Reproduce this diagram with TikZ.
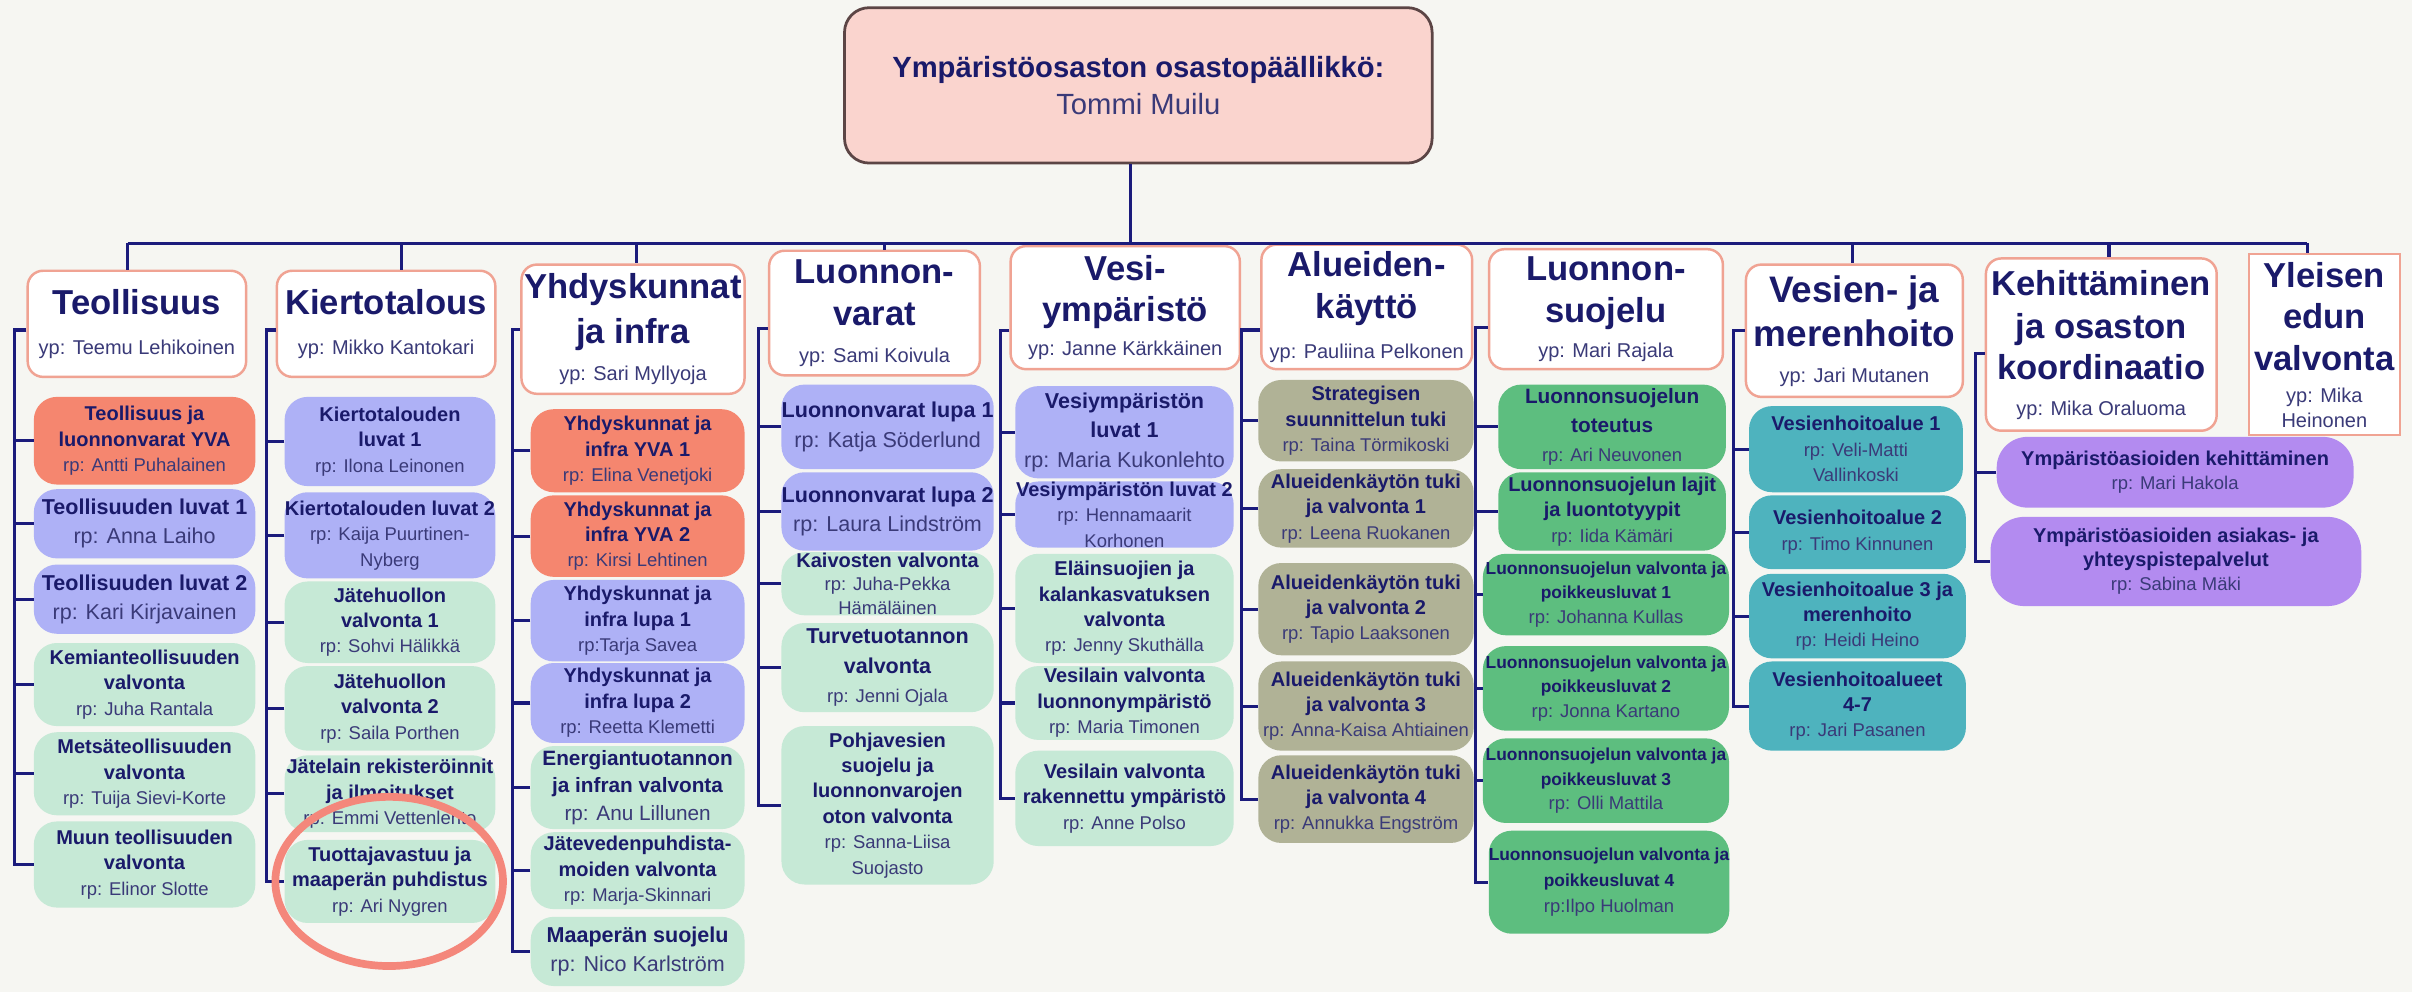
\documentclass[tikz,border=0pt]{standalone}
\usepackage{fontspec}
\setmainfont{Liberation Sans}
\usetikzlibrary{shapes.geometric,calc}
\definecolor{bg}{HTML}{F6F6F2}
\definecolor{navy}{HTML}{1B1B7C}
\definecolor{tnavy}{HTML}{1A1A6A}
\definecolor{rpc}{HTML}{3A3A78}
\definecolor{salm}{HTML}{F5866F}
\definecolor{lav}{HTML}{AEB1F6}
\definecolor{lgr}{HTML}{C6E9D6}
\definecolor{oli}{HTML}{B0B296}
\definecolor{mgr}{HTML}{5DBE7F}
\definecolor{tealb}{HTML}{4EB3BE}
\definecolor{purp}{HTML}{B38BF0}
\definecolor{hbord}{HTML}{F0A393}
\definecolor{tfill}{HTML}{FAD4CE}
\definecolor{tbord}{HTML}{5C4545}
\definecolor{ellc}{HTML}{F4877B}
\tikzset{
 conn/.style={draw=navy, line width=2pt},
 cbox/.style={rounded corners=15pt, inner sep=0pt, align=center, text=tnavy, font=\fontsize{13}{16.5}\selectfont},
 big/.style={font=\fontsize{14}{19}\selectfont},
 hbox/.style={draw=hbord, fill=white, line width=1.6pt, rounded corners=10pt, inner sep=0pt, align=center, text=tnavy, font=\fontsize{22.5}{27}\selectfont},
 topbox/.style={draw=tbord, fill=tfill, line width=1.8pt, rounded corners=16pt, inner sep=0pt, align=center, text=tnavy, font=\fontsize{19}{24}\selectfont},
}
\newcommand{\tB}[1]{\textbf{#1}}
\newcommand{\tR}[1]{{\color{rpc}#1}}
\newcommand{\tr}[1]{{\fontsize{12}{14}\selectfont\color{rpc}#1}}
\newcommand{\tY}[1]{{\fontsize{13}{16}\selectfont\color{rpc}#1}}
\newcommand{\cbx}[8][]{\node[cbox,fill=#7,minimum width={(#5-#3)*1pt},minimum height={(#6-#4)*1pt},#1] (#2) at ({(#3+#5)/2},{(#4+#6)/2}) {#8};}
\newcommand{\hbx}[7][]{\node[hbox,minimum width={(#5-#3)*1pt},minimum height={(#6-#4)*1pt},#1] (#2) at ({(#3+#5)/2},{(#4+#6)/2}) {#7};}
\begin{document}
\begin{tikzpicture}[x=1pt,y=-1pt]
\useasboundingbox (0,0) rectangle (1568,645);
\fill[bg] (0,0) rectangle (1568,645);

\node[topbox, minimum width=382pt, minimum height=101pt] (top) at (740,55.5) {\textbf{Ympäristöosaston osastopäällikkö:}\\{\color{rpc}Tommi Muilu}};

% headers
\hbx{h1}{18}{176}{160}{245}{\tB{Teollisuus}\\[-1pt]\tY{yp: Teemu Lehikoinen}}
\hbx{h2}{180}{176}{322}{245}{\tB{Kiertotalous}\\[-1pt]\tY{yp: Mikko Kantokari}}
\hbx{h3}{339}{172}{484}{256}{\tB{Yhdyskunnat}\\[2pt]\tB{ja infra}\\[-3pt]\tY{yp: Sari Myllyoja}}
\hbx{h4}{500}{163}{637}{244}{\tB{Luonnon-}\\\tB{varat}\\[-3pt]\tY{yp: Sami Koivula}}
\hbx{h5}{657}{160}{806}{240}{\tB{Vesi-}\\\tB{ympäristö}\\[-5pt]\tY{yp: Janne Kärkkäinen}}
\hbx{h6}{820}{159}{957}{240}{\tB{Alueiden-}\\\tB{käyttö}\\[-1pt]\tY{yp: Pauliina Pelkonen}}
\hbx{h7}{968}{162}{1120}{240}{\tB{Luonnon-}\\\tB{suojelu}\\[-4pt]\tY{yp: Mari Rajala}}
\hbx[font=\fontsize{24}{29}\selectfont]{h8}{1135}{172}{1276}{258}{\tB{Vesien- ja}\\\tB{merenhoito}\\[-6pt]\tY{yp: Jari Mutanen}}
\hbx{h9}{1291}{168}{1441}{280}{\tB{Kehittäminen}\\[1pt]\tB{ja osaston}\\\tB{koordinaatio}\\[-4pt]\tY{yp: Mika Oraluoma}}
\hbx[rounded corners=0pt, line width=1.2pt]{h10}{1462}{165}{1560}{283}{\tB{Yleisen}\\\tB{edun}\\\tB{valvonta}\\[-6pt]\tY{yp: Mika}\\[-11pt]\tY{Heinonen}}

% column 1
\cbx{c11}{22}{258}{166}{315}{salm}{\tB{Teollisuus ja}\\\tB{luonnonvarat YVA}\\\tr{rp: Antti Puhalainen}}
\cbx[big]{c12}{22}{318}{166}{363}{lav}{\tB{Teollisuuden luvat 1}\\\tR{rp: Anna Laiho}}
\cbx[big]{c13}{22}{367}{166}{412}{lav}{\tB{Teollisuuden luvat 2}\\\tR{rp: Kari Kirjavainen}}
\cbx{c14}{22}{418}{166}{472}{lgr}{\tB{Kemianteollisuuden}\\\tB{valvonta}\\\tr{rp: Juha Rantala}}
\cbx{c15}{22}{476}{166}{530}{lgr}{\tB{Metsäteollisuuden}\\\tB{valvonta}\\\tr{rp: Tuija Sievi-Korte}}
\cbx{c16}{22}{534}{166}{590}{lgr}{\tB{Muun teollisuuden}\\\tB{valvonta}\\\tr{rp: Elinor Slotte}}

% column 2
\cbx{c21}{185}{258}{322}{316}{lav}{\tB{Kiertotalouden}\\\tB{luvat 1}\\\tr{rp: Ilona Leinonen}}
\cbx{c22}{185}{320}{322}{376}{lav}{\tB{Kiertotalouden luvat 2}\\\tr{rp: Kaija Puurtinen-}\\\tr{Nyberg}}
\cbx{c23}{185}{378}{322}{431}{lgr}{\tB{Jätehuollon}\\\tB{valvonta 1}\\\tr{rp: Sohvi Hälikkä}}
\cbx{c24}{185}{433}{322}{488}{lgr}{\tB{Jätehuollon}\\\tB{valvonta 2}\\\tr{rp: Saila Porthen}}
\cbx{c25}{185}{491}{322}{541}{lgr}{\tB{Jätelain rekisteröinnit}\\\tB{ja ilmoitukset}\\\tr{rp: Emmi Vettenlehto}}
\cbx{c26}{185}{546}{322}{600}{lgr}{\tB{Tuottajavastuu ja}\\\tB{maaperän puhdistus}\\\tr{rp: Ari Nygren}}

% column 3
\cbx{c31}{345}{266}{484}{320}{salm}{\tB{Yhdyskunnat ja}\\\tB{infra YVA 1}\\\tr{rp: Elina Venetjoki}}
\cbx{c32}{345}{322}{484}{375}{salm}{\tB{Yhdyskunnat ja}\\\tB{infra YVA 2}\\\tr{rp: Kirsi Lehtinen}}
\cbx{c33}{345}{377}{484}{430}{lav}{\tB{Yhdyskunnat ja}\\\tB{infra lupa 1}\\\tr{rp:Tarja Savea}}
\cbx{c34}{345}{431}{484}{483}{lav}{\tB{Yhdyskunnat ja}\\\tB{infra lupa 2}\\\tr{rp: Reetta Klemetti}}
\cbx[font=\fontsize{13.5}{18}\selectfont]{c35}{345}{485}{484}{539}{lgr}{\tB{Energiantuotannon}\\\tB{ja infran valvonta}\\\tR{rp: Anu Lillunen}}
\cbx{c36}{345}{541}{484}{591}{lgr}{\tB{Jätevedenpuhdista-}\\\tB{moiden valvonta}\\\tr{rp: Marja-Skinnari}}
\cbx[big]{c37}{345}{596}{484}{641}{lgr}{\tB{Maaperän suojelu}\\\tR{rp: Nico Karlström}}

% column 4
\cbx[big]{c41}{508}{250}{646}{305}{lav}{\tB{Luonnonvarat lupa 1}\\\tR{rp: Katja Söderlund}}
\cbx[big]{c42}{508}{307}{646}{358}{lav}{\tB{Luonnonvarat lupa 2}\\\tR{rp: Laura Lindström}}
\cbx[font=\fontsize{13}{15.5}\selectfont]{c43}{508}{359}{646}{400}{lgr}{\tB{Kaivosten valvonta}\\\tr{rp: Juha-Pekka}\\\tr{Hämäläinen}}
\cbx[font=\fontsize{14}{19}\selectfont]{c44}{508}{405}{646}{463}{lgr}{\tB{Turvetuotannon}\\\tB{valvonta}\\\tr{rp: Jenni Ojala}}
\cbx{c45}{508}{472}{646}{575}{lgr}{\tB{Pohjavesien}\\\tB{suojelu ja}\\\tB{luonnonvarojen}\\\tB{oton valvonta}\\\tr{rp: Sanna-Liisa}\\\tr{Suojasto}}

% column 5
\cbx[font=\fontsize{14}{19}\selectfont]{c51}{660}{251}{802}{311}{lav}{\tB{Vesiympäristön}\\\tB{luvat 1}\\\tR{rp: Maria Kukonlehto}}
\cbx{c52}{660}{313}{802}{356}{lav}{\tB{Vesiympäristön luvat 2}\\\tr{rp: Hennamaarit}\\\tr{Korhonen}}
\cbx{c53}{660}{360}{802}{431}{lgr}{\tB{Eläinsuojien ja}\\\tB{kalankasvatuksen}\\\tB{valvonta}\\\tr{rp: Jenny Skuthälla}}
\cbx{c54}{660}{433}{802}{481}{lgr}{\tB{Vesilain valvonta}\\\tB{luonnonympäristö}\\\tr{rp: Maria Timonen}}
\cbx{c55}{660}{488}{802}{550}{lgr}{\tB{Vesilain valvonta}\\\tB{rakennettu ympäristö}\\\tr{rp: Anne Polso}}

% column 6
\cbx{c61}{818}{247}{958}{300}{oli}{\tB{Strategisen}\\\tB{suunnittelun tuki}\\\tr{rp: Taina Törmikoski}}
\cbx{c62}{818}{305}{958}{356}{oli}{\tB{Alueidenkäytön tuki}\\\tB{ja valvonta 1}\\\tr{rp: Leena Ruokanen}}
\cbx{c63}{818}{366}{958}{426}{oli}{\tB{Alueidenkäytön tuki}\\\tB{ja valvonta 2}\\\tr{rp: Tapio Laaksonen}}
\cbx{c64}{818}{430}{958}{488}{oli}{\tB{Alueidenkäytön tuki}\\\tB{ja valvonta 3}\\\tr{rp: Anna-Kaisa Ahtiainen}}
\cbx{c65}{818}{491}{958}{548}{oli}{\tB{Alueidenkäytön tuki}\\\tB{ja valvonta 4}\\\tr{rp: Annukka Engström}}

% column 7
\cbx[font=\fontsize{13.5}{19}\selectfont]{c71}{974}{250}{1122}{305}{mgr}{\tB{Luonnonsuojelun}\\\tB{toteutus}\\\tr{rp: Ari Neuvonen}}
\cbx{c72}{974}{307}{1122}{358}{mgr}{\tB{Luonnonsuojelun lajit}\\\tB{ja luontotyypit}\\\tr{rp: Iida Kämäri}}
\cbx[font=\fontsize{11.3}{16}\selectfont]{c73}{964}{360}{1124}{413}{mgr}{\tB{Luonnonsuojelun valvonta ja}\\\tB{poikkeusluvat 1}\\\tr{rp: Johanna Kullas}}
\cbx[font=\fontsize{11.3}{16}\selectfont]{c74}{964}{420}{1124}{475}{mgr}{\tB{Luonnonsuojelun valvonta ja}\\\tB{poikkeusluvat 2}\\\tr{rp: Jonna Kartano}}
\cbx[font=\fontsize{11.3}{16}\selectfont]{c75}{964}{480}{1124}{535}{mgr}{\tB{Luonnonsuojelun valvonta ja}\\\tB{poikkeusluvat 3}\\\tr{rp: Olli Mattila}}
\cbx[font=\fontsize{11.3}{17}\selectfont]{c76}{968}{540}{1124}{607}{mgr}{\tB{Luonnonsuojelun valvonta ja}\\\tB{poikkeusluvat 4}\\\tr{rp:Ilpo Huolman}}

% column 8
\cbx{c81}{1137}{264}{1276}{320}{tealb}{\tB{Vesienhoitoalue 1}\\\tr{rp: Veli-Matti}\\\tr{Vallinkoski}}
\cbx{c82}{1137}{322}{1278}{370}{tealb}{\tB{Vesienhoitoalue 2}\\\tr{rp: Timo Kinnunen}}
\cbx{c83}{1137}{373}{1278}{428}{tealb}{\tB{Vesienhoitoalue 3 ja}\\\tB{merenhoito}\\\tr{rp: Heidi Heino}}
\cbx{c84}{1137}{430}{1278}{488}{tealb}{\tB{Vesienhoitoalueet}\\\tB{4-7}\\\tr{rp: Jari Pasanen}}

% column 9
\cbx[font=\fontsize{13}{15.5}\selectfont, rounded corners=20pt]{c91}{1298}{284}{1530}{330}{purp}{\tB{Ympäristöasioiden kehittäminen}\\\tr{rp: Mari Hakola}}
\cbx[font=\fontsize{13}{15.5}\selectfont, rounded corners=22pt]{c92}{1294}{336}{1535}{394}{purp}{\tB{Ympäristöasioiden asiakas- ja}\\\tB{yhteyspistepalvelut}\\\tr{rp: Sabina Mäki}}

% bus and drops
\coordinate (b1) at (83,158);
\coordinate (b2) at (261,158);
\coordinate (b3) at (414,158);
\coordinate (b4) at (575,158);
\coordinate (b5) at (735,158);
\coordinate (b8) at (1204,158);
\coordinate (b9) at (1371,158);
\coordinate (b10) at (1500,158);
\draw[conn] ([xshift=-5pt]top.south) -- (b5);
\draw[conn] (b1) -- (b10);
\foreach \i in {1,2,3,4,5,8,9,10} \draw[conn] (b\i) -- (b\i |- h\i.north);

% spines
\draw[conn] ([yshift=-4pt]h1.west) -- ++(-8,0) coordinate (s1) |- (c16.west);
\foreach \c in {c11,c12,c13,c14,c15} \draw[conn] (\c.west) -- (\c.west -| s1);
\draw[conn] ([yshift=-4pt]h2.west) -- ++(-6,0) coordinate (s2) |- (c26.west);
\foreach \c in {c21,c22,c23,c24,c25} \draw[conn] (\c.west) -- (\c.west -| s2);
\draw[conn] (h3.west) -- ++(-5,0) coordinate (s3) |- (c37.west);
\foreach \c in {c31,c32,c33,c34,c35,c36} \draw[conn] (\c.west) -- (\c.west -| s3);
\draw[conn] ([yshift=-10pt]h4.west) -- ++(-6,0) coordinate (s4) |- (c45.west);
\foreach \c in {c41,c42,c43,c44} \draw[conn] (\c.west) -- (\c.west -| s4);
\draw[conn] ([yshift=-15pt]h5.west) -- ++(-6,0) coordinate (s5) |- (c55.west);
\foreach \c in {c51,c52,c53,c54} \draw[conn] (\c.west) -- (\c.west -| s5);
\draw[conn] ([yshift=-15pt]h6.west) -- ++(-12,0) coordinate (s6) |- (c65.west);
\foreach \c in {c61,c62,c63,c64} \draw[conn] (\c.west) -- (\c.west -| s6);
\draw[conn] ([yshift=-12pt]h7.west) -- ++(-8,0) coordinate (s7) |- (c76.west);
\foreach \c in {c71,c72,c73,c74,c75} \draw[conn] (\c.west) -- (\c.west -| s7);
\draw[conn] (h8.west) -- ++(-7,0) coordinate (s8) |- (c84.west);
\foreach \c in {c81,c82,c83} \draw[conn] (\c.west) -- (\c.west -| s8);
\draw[conn] ([yshift=-6pt]h9.west) -- ++(-6,0) coordinate (s9) |- (c92.west);
\draw[conn] (c91.west) -- (c91.west -| s9);

% highlight ellipse
\node[draw=ellc, line width=5pt, ellipse, minimum width=148pt, minimum height=110pt, inner sep=0pt] (mark) at (253,573) {};
\end{tikzpicture}
\end{document}
